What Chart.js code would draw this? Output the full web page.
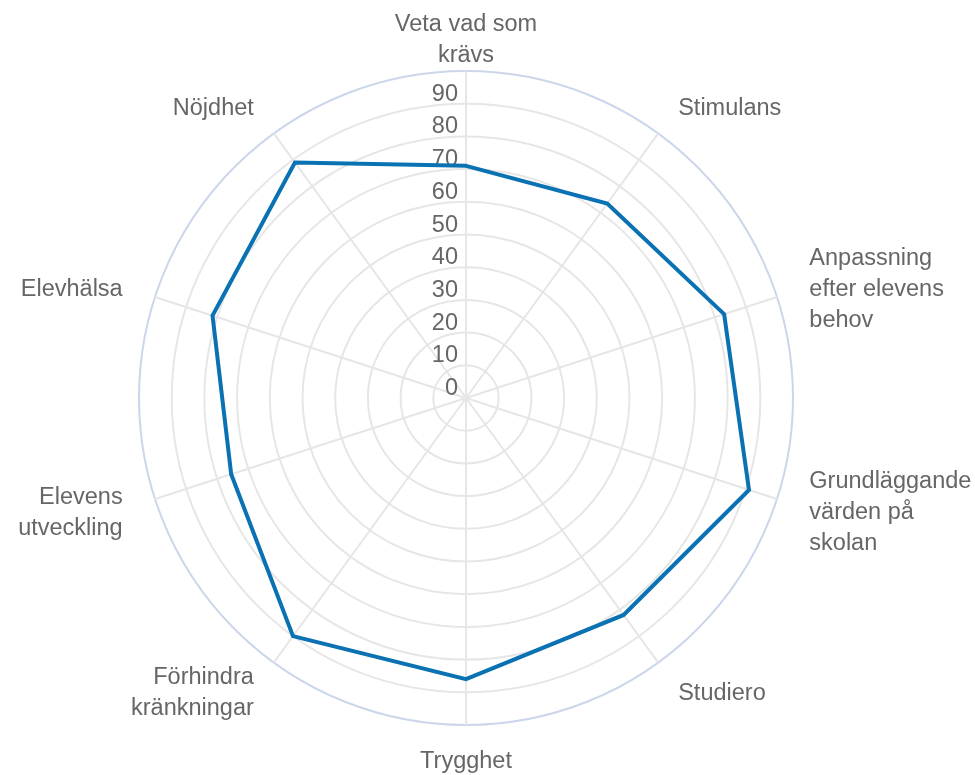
<!DOCTYPE html>
<html>
<head>
<meta charset="utf-8">
<script src="https://cdn.jsdelivr.net/npm/chart.js@4.4.1/dist/chart.umd.min.js"></script>
<style>
  html, body { margin: 0; padding: 0; background: #ffffff; }
  #wrap { width: 975px; height: 775px; position: relative; }
</style>
</head>
<body>
<div id="wrap"><canvas id="c"></canvas></div>
<script>
const categories = [
  ["Veta vad som", "krävs"],
  ["Stimulans"],
  ["Anpassning", "efter elevens", "behov"],
  ["Grundläggande", "värden på", "skolan"],
  ["Studiero"],
  ["Trygghet"],
  ["Förhindra", "kränkningar"],
  ["Elevens", "utveckling"],
  ["Elevhälsa"],
  ["Nöjdhet"]
];
const seriesValues = [71, 73.5, 83, 91, 82, 86, 90, 75.5, 81.5, 89];
const tickLabels = ["0", "10", "20", "30", "40", "50", "60", "70", "80", "90"];
const tickValues = [0, 10, 20, 30, 40, 50, 60, 70, 80, 90];

const FONT = "'Liberation Sans', Arial, Helvetica, sans-serif";
const FONT_SIZE = 23.5;
const LINE_H = 31;
const TEXT_COLOR = "#666666";

// tick labels: right-aligned just left of the vertical axis, sitting on each ring
const tickLabelPlugin = {
  id: 'tickLabelPlugin',
  beforeDatasetsDraw(chart) {
    const s = chart.scales.r;
    const ctx = chart.ctx;
    ctx.save();
    ctx.font = FONT_SIZE + "px " + FONT;
    ctx.fillStyle = TEXT_COLOR;
    ctx.textAlign = "right";
    ctx.textBaseline = "alphabetic";
    tickValues.forEach((v, i) => {
      const d = s.getDistanceFromCenterForValue(v);
      ctx.fillText(tickLabels[i], s.xCenter - 8, s.yCenter - d - 3);
    });
    ctx.restore();
  }
};

// category labels: vertically centred at a point just outside the outer ring
const categoryLabelPlugin = {
  id: 'categoryLabelPlugin',
  afterDraw(chart) {
    const s = chart.scales.r;
    const ctx = chart.ctx;
    const n = categories.length;
    const dist = s.drawingArea + 34;
    ctx.save();
    ctx.font = FONT_SIZE + "px " + FONT;
    ctx.fillStyle = TEXT_COLOR;
    ctx.textBaseline = "middle";
    categories.forEach((lines, i) => {
      const p = s.getPointPosition(i, dist);
      const deg = (i * 360 / n) % 360;
      if (deg === 0 || deg === 180) ctx.textAlign = "center";
      else if (deg < 180) ctx.textAlign = "left";
      else ctx.textAlign = "right";
      const y0 = p.y + 3 - (lines.length - 1) * LINE_H / 2;
      lines.forEach((t, k) => ctx.fillText(t, p.x, y0 + k * LINE_H));
    });
    ctx.restore();
  }
};

new Chart(document.getElementById('c'), {
  type: 'radar',
  data: {
    labels: categories,
    datasets: [{
      data: seriesValues,
      borderColor: '#0a72b3',
      borderWidth: 4,
      fill: false,
      pointRadius: 0,
      pointHoverRadius: 0,
      tension: 0
    }]
  },
  options: {
    responsive: true,
    maintainAspectRatio: false,
    animation: false,
    layout: { padding: { top: 71, bottom: 50, left: 0, right: 42 } },
    plugins: { legend: { display: false }, tooltip: { enabled: false } },
    scales: {
      r: {
        min: 0,
        max: 100,
        startAngle: 0,
        ticks: { display: false, stepSize: 10 },
        grid: {
          circular: true,
          lineWidth: 2,
          color: (c) => (c.index === 10 ? '#ccd6eb' : '#e6e6e6')
        },
        angleLines: { color: '#e6e6e6', lineWidth: 2 },
        pointLabels: { display: false }
      }
    }
  },
  plugins: [tickLabelPlugin, categoryLabelPlugin]
});
</script>
</body>
</html>
